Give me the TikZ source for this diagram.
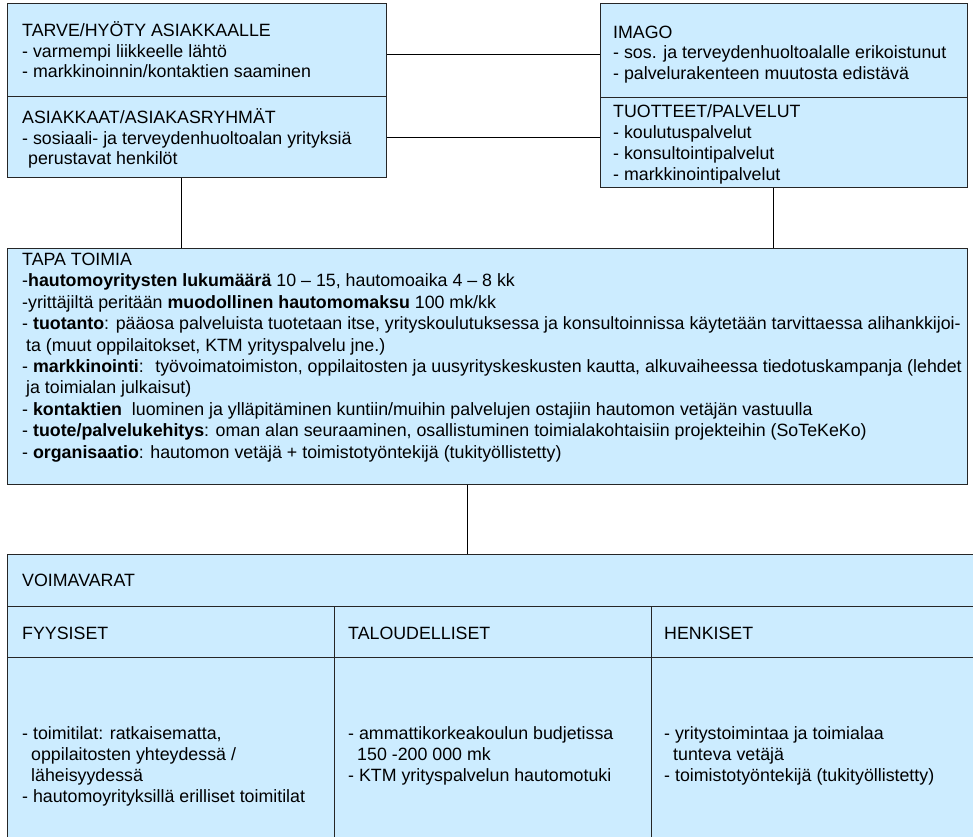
\documentclass[tikz,border=0pt]{standalone}
\usepackage{fontspec}
\setmainfont{Liberation Sans}
\definecolor{boxfill}{RGB}{204,236,255}
\usetikzlibrary{calc}

\begin{document}
\begin{tikzpicture}[x=1pt, y=-1pt,
    box/.style={draw=black!85, line width=1.2pt, fill=boxfill, anchor=north west, inner sep=0pt},
    conn/.style={draw=black, line width=1pt},
    txt/.style={anchor=north west, inner sep=0pt, align=left, font=\fontsize{17.8}{20.5}\selectfont},
    tapatxt/.style={txt, font=\fontsize{17.8}{21.4}\selectfont},
    celltxt/.style={txt, font=\fontsize{17.8}{21}\selectfont}]
    \useasboundingbox (0,0) rectangle (973,836);

    % Top boxes
    \node[box, minimum width=379pt, minimum height=93pt] (tarve) at (7,3) {};
    \node[box, minimum width=379pt, minimum height=81pt] (asiakkaat) at (7,96) {};
    \node[box, minimum width=367pt, minimum height=94pt] (imago) at (600,3) {};
    \node[box, minimum width=367pt, minimum height=90pt] (tuotteet) at (600,97) {};

    \node[txt] (tarve-txt) at (22,21.5) {TARVE/HYÖTY ASIAKKAALLE\\- varmempi liikkeelle lähtö\\- markkinoinnin/kontaktien saaminen};
    \node[txt] (asiakkaat-txt) at (22,108.5) {ASIAKKAAT/ASIAKASRYHMÄT\\- sosiaali- ja terveydenhuoltoalan yrityksiä\\\hspace*{6pt}perustavat henkilöt};
    \node[txt] (imago-txt) at (613,25.4) {IMAGO\\- sos. ja terveydenhuoltoalalle erikoistunut\\- palvelurakenteen muutosta edistävä};
    \node[celltxt] (tuotteet-txt) at (613,104.4) {TUOTTEET/PALVELUT\\- koulutuspalvelut\\- konsultointipalvelut\\- markkinointipalvelut};

    % Links between the top boxes
    \draw[conn] ([yshift=-4.5pt]tarve.east) -- ([yshift=-4.5pt]tarve.east -| imago.west);
    \draw[conn] (asiakkaat.east) -- (asiakkaat.east -| tuotteet.west);

    % Middle box
    \node[box, minimum width=960pt, minimum height=236pt] (tapa) at (7,248) {};
    \node[tapatxt] (tapa-txt) at (22,252.9) {TAPA TOIMIA\\
        -\textbf{hautomoyritysten lukumäärä} 10 – 15, hautomoaika 4 – 8 kk\\
        -yrittäjiltä peritään \textbf{muodollinen hautomomaksu} 100 mk/kk\\
        - \textbf{tuotanto}: pääosa palveluista tuotetaan itse, yrityskoulutuksessa ja konsultoinnissa käytetään tarvittaessa alihankkijoi-\\
        \hspace*{4pt}ta (muut oppilaitokset, KTM yrityspalvelu jne.)\\
        - \textbf{markkinointi}:~ työvoimatoimiston, oppilaitosten ja uusyrityskeskusten kautta, alkuvaiheessa tiedotuskampanja (lehdet\\
        \hspace*{4pt}ja toimialan julkaisut)\\
        - \textbf{kontaktien}~ luominen ja ylläpitäminen kuntiin/muihin palvelujen ostajiin hautomon vetäjän vastuulla\\
        - \textbf{tuote/palvelukehitys}: oman alan seuraaminen, osallistuminen toimialakohtaisiin projekteihin (SoTeKeKo)\\
        - \textbf{organisaatio}: hautomon vetäjä + toimistotyöntekijä (tukityöllistetty)};

    \draw[conn] ([xshift=-15.5pt]asiakkaat.south) -- ([xshift=-15.5pt]asiakkaat.south |- tapa.north);
    \draw[conn] ([xshift=-10.5pt]tuotteet.south) -- ([xshift=-10.5pt]tuotteet.south |- tapa.north);

    % Resources table
    \node[box, minimum width=990pt, minimum height=52pt] (voima) at (7,554) {};
    \node[box, minimum width=327pt, minimum height=51pt] (fyys) at (7,606) {};
    \node[box, minimum width=317pt, minimum height=51pt] (talous) at (334,606) {};
    \node[box, minimum width=340pt, minimum height=51pt] (henk) at (651,606) {};
    \node[box, minimum width=327pt, minimum height=220pt] (fyys-cell) at (7,657) {};
    \node[box, minimum width=317pt, minimum height=220pt] (talous-cell) at (334,657) {};
    \node[box, minimum width=340pt, minimum height=220pt] (henk-cell) at (651,657) {};

    \node[txt] (voima-txt) at (22,574) {VOIMAVARAT};
    \node[txt] (fyys-txt) at (22,626.5) {FYYSISET};
    \node[txt] (talous-txt) at (348,626.5) {TALOUDELLISET};
    \node[txt] (henk-txt) at (664,626.5) {HENKISET};

    \node[celltxt] (fyys-cell-txt) at (22,726) {- toimitilat: ratkaisematta,\\\hspace*{9pt}oppilaitosten yhteydessä /\\\hspace*{9pt}läheisyydessä\\- hautomoyrityksillä erilliset toimitilat};
    \node[celltxt] (talous-cell-txt) at (348,726) {- ammattikorkeakoulun budjetissa\\\hspace*{9pt}150 -200 000 mk\\- KTM yrityspalvelun hautomotuki};
    \node[celltxt] (henk-cell-txt) at (664,726) {- yritystoimintaa ja toimialaa\\\hspace*{9pt}tunteva vetäjä\\- toimistotyöntekijä (tukityöllistetty)};

    \draw[conn] ([xshift=-20pt]tapa.south) -- ([xshift=-20pt]tapa.south |- voima.north);
\end{tikzpicture}
\end{document}
